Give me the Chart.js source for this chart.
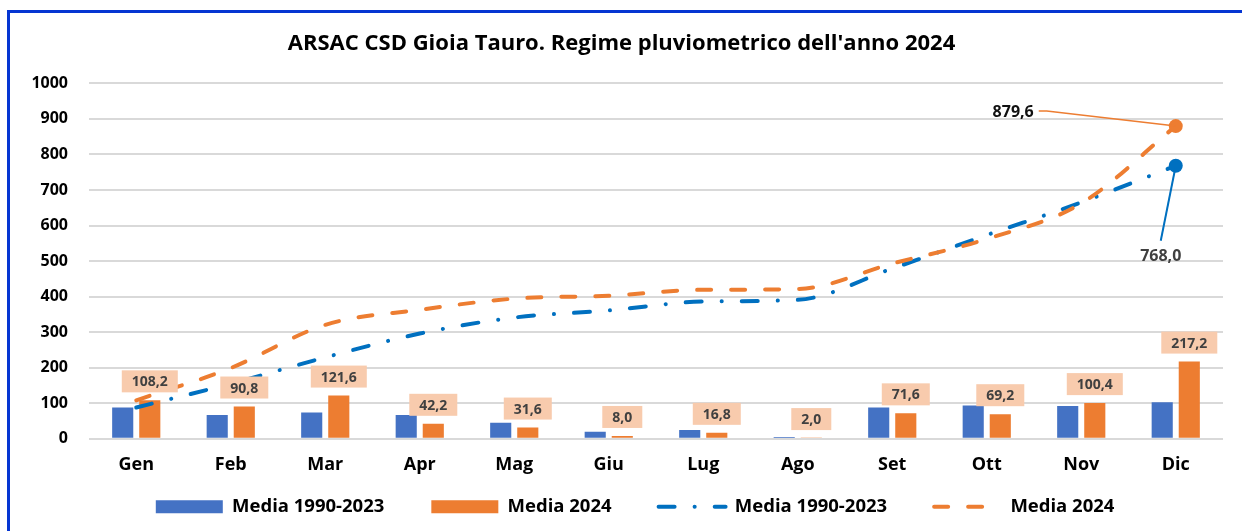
<!DOCTYPE html>
<html lang="it">

<head>
    <meta charset="UTF-8">
    <title>ARSAC CSD Gioia Tauro - Regime pluviometrico 2024</title>
    <script src="https://cdn.jsdelivr.net/npm/chart.js"></script>
    <style>
        body { margin: 0; background: #fff; }
        .wrap { position: relative; width: 1242px; height: 531px; overflow: hidden; }
        .frame {
            position: absolute; left: 7px; top: 10px; width: 1300px; height: 600px;
            border-left: 3px solid #0535d2; border-top: 3px solid #0535d2;
            pointer-events: none;
        }
    </style>
</head>

<body>
    <div class="wrap">
        <canvas id="rainChart" width="1242" height="531"></canvas>
        <div class="frame"></div>
    </div>

    <script>
        // months
        var mesi = ['Gen', 'Feb', 'Mar', 'Apr', 'Mag', 'Giu', 'Lug', 'Ago', 'Set', 'Ott', 'Nov', 'Dic'];
        // monthly rain (mm)
        var media19902023 = [88, 67, 74, 67, 45, 20, 25, 5, 88, 94, 92, 103];
        var media2024 = [108.2, 90.8, 121.6, 42.2, 31.6, 8.0, 16.8, 2.0, 71.6, 69.2, 100.4, 217.2];
        // cumulated rain (mm)
        var cumul19902023 = [88, 155, 229, 296, 341, 361, 386, 391, 479, 573, 665, 768.0];
        var cumul2024 = [108.2, 199.0, 320.6, 362.8, 394.4, 402.4, 419.2, 421.2, 492.8, 562.0, 662.4, 879.6];
        var yTicks = [0, 100, 200, 300, 400, 500, 600, 700, 800, 900, 1000];

        var FONT = "'Open Sans', 'Liberation Sans', sans-serif";

        function fmt(v) {
            return v.toFixed(1).replace('.', ',');
        }

        function lastDot(ctx) {
            return ctx.dataIndex === mesi.length - 1 ? 7 : 0;
        }

        // labels in peach boxes above the 2024 bars
        var barLabels = {
            id: 'barLabels',
            afterDatasetsDraw: function(chart) {
                var c = chart.ctx;
                var meta = chart.getDatasetMeta(1);
                c.save();
                c.font = 'bold 14px ' + FONT;
                c.textAlign = 'center';
                c.textBaseline = 'middle';
                meta.data.forEach(function(bar, i) {
                    var txt = fmt(media2024[i]);
                    var w = c.measureText(txt).width + 20;
                    var cy = bar.y - 19;
                    c.fillStyle = '#f8cbad';
                    c.fillRect(bar.x - w / 2, cy - 11, w, 22);
                    c.fillStyle = '#404040';
                    c.fillText(txt, bar.x, cy + 1);
                });
                c.restore();
            }
        };

        // end labels of the cumulated lines
        var endLabels = {
            id: 'endLabels',
            afterDatasetsDraw: function(chart) {
                var c = chart.ctx;
                var n = mesi.length - 1;
                var po = chart.getDatasetMeta(3).data[n];
                var pb = chart.getDatasetMeta(2).data[n];
                c.save();
                c.font = 'bold 16px ' + FONT;
                c.textBaseline = 'middle';

                c.strokeStyle = '#ed7d31';
                c.lineWidth = 1.5;
                c.beginPath();
                c.moveTo(po.x - 137, po.y - 15);
                c.lineTo(po.x - 129, po.y - 15);
                c.lineTo(po.x, po.y);
                c.stroke();
                c.fillStyle = '#111';
                c.textAlign = 'right';
                c.fillText(fmt(cumul2024[n]), po.x - 142, po.y - 14);

                c.strokeStyle = '#0070c0';
                c.lineWidth = 2;
                c.beginPath();
                c.moveTo(pb.x - 15, pb.y + 75);
                c.lineTo(pb.x, pb.y);
                c.stroke();
                c.fillStyle = '#404040';
                c.textAlign = 'center';
                c.fillText(fmt(cumul19902023[n]), pb.x - 15, pb.y + 91);
                c.restore();
            }
        };

        var ctx = document.getElementById('rainChart').getContext('2d');
        new Chart(ctx, {
            data: {
                labels: mesi,
                datasets: [{
                    type: 'bar',
                    label: 'Media 1990-2023',
                    data: media19902023,
                    backgroundColor: '#4472c4',
                    borderWidth: 0,
                    pointStyle: 'rect',
                    order: 3
                }, {
                    type: 'bar',
                    label: 'Media 2024',
                    data: media2024,
                    backgroundColor: '#ed7d31',
                    borderWidth: 0,
                    pointStyle: 'rect',
                    order: 4
                }, {
                    type: 'line',
                    label: 'Media 1990-2023',
                    data: cumul19902023,
                    borderColor: '#0070c0',
                    backgroundColor: '#0070c0',
                    borderWidth: 4,
                    borderDash: [16, 20, 0.1, 20],
                    borderCapStyle: 'round',
                    cubicInterpolationMode: 'monotone',
                    pointRadius: lastDot,
                    pointBorderWidth: 0,
                    pointBackgroundColor: '#0070c0',
                    order: 2
                }, {
                    type: 'line',
                    label: 'Media 2024',
                    data: cumul2024,
                    borderColor: '#ed7d31',
                    backgroundColor: '#ed7d31',
                    borderWidth: 4,
                    borderDash: [14, 20],
                    borderCapStyle: 'round',
                    cubicInterpolationMode: 'monotone',
                    pointRadius: lastDot,
                    pointBorderWidth: 0,
                    pointBackgroundColor: '#ed7d31',
                    order: 1
                }]
            },
            options: {
                responsive: false,
                animation: false,
                layout: {
                    padding: { left: 20, right: 19, top: 20, bottom: 5 }
                },
                datasets: {
                    bar: { categoryPercentage: 0.573, barPercentage: 0.78 }
                },
                scales: {
                    x: {
                        grid: { display: false },
                        border: { display: false },
                        ticks: {
                            color: '#000',
                            font: { family: FONT, size: 18, weight: 'bold' },
                            padding: 7
                        },
                        afterFit: function(scale) { scale.height = 48.7; }
                    },
                    y: {
                        min: 0,
                        max: 1000,
                        afterBuildTicks: function(scale) {
                            scale.ticks = yTicks.map(function(v) { return { value: v }; });
                        },
                        grid: { color: '#d9d9d9', lineWidth: 2, drawTicks: false },
                        border: { display: false },
                        ticks: {
                            color: '#000',
                            font: { family: FONT, size: 16, weight: 'bold' },
                            padding: 21,
                            callback: function(v) { return String(v); }
                        },
                        afterFit: function(scale) { scale.width = 69; }
                    }
                },
                plugins: {
                    tooltip: { enabled: false },
                    title: {
                        display: true,
                        text: "ARSAC CSD Gioia Tauro. Regime pluviometrico dell'anno 2024",
                        color: '#000',
                        font: { family: FONT, size: 22, weight: 'bold', lineHeight: 1.2 },
                        padding: { top: 10.8, bottom: 26.1 }
                    },
                    legend: {
                        position: 'bottom',
                        fullSize: false,
                        labels: {
                            color: '#000',
                            font: { family: FONT, size: 18.5, weight: 'bold' },
                            usePointStyle: true,
                            pointStyleWidth: 67,
                            boxHeight: 13,
                            padding: 10,
                            sort: function(a, b) { return a.datasetIndex - b.datasetIndex; },
                            generateLabels: function(chart) {
                                var items = Chart.defaults.plugins.legend.labels.generateLabels(chart);
                                items.forEach(function(it) {
                                    var ds = chart.data.datasets[it.datasetIndex];
                                    // wider gap between legend entries, as in the original
                                    it.text = ds.label + (it.datasetIndex < 3 ? '\u2003\u2003' : '\u2003\u2003 ');
                                    if (ds.type === 'line') {
                                        it.pointStyle = 'line';
                                        it.lineDash = ds.borderDash;
                                        it.lineWidth = ds.borderWidth;
                                        it.lineCap = 'round';
                                        it.strokeStyle = ds.borderColor;
                                    } else {
                                        it.pointStyle = 'rect';
                                        it.lineWidth = 0;
                                        it.fillStyle = ds.backgroundColor;
                                    }
                                });
                                return items;
                            }
                        }
                    }
                }
            },
            plugins: [barLabels, endLabels]
        });
    </script>
</body>

</html>
